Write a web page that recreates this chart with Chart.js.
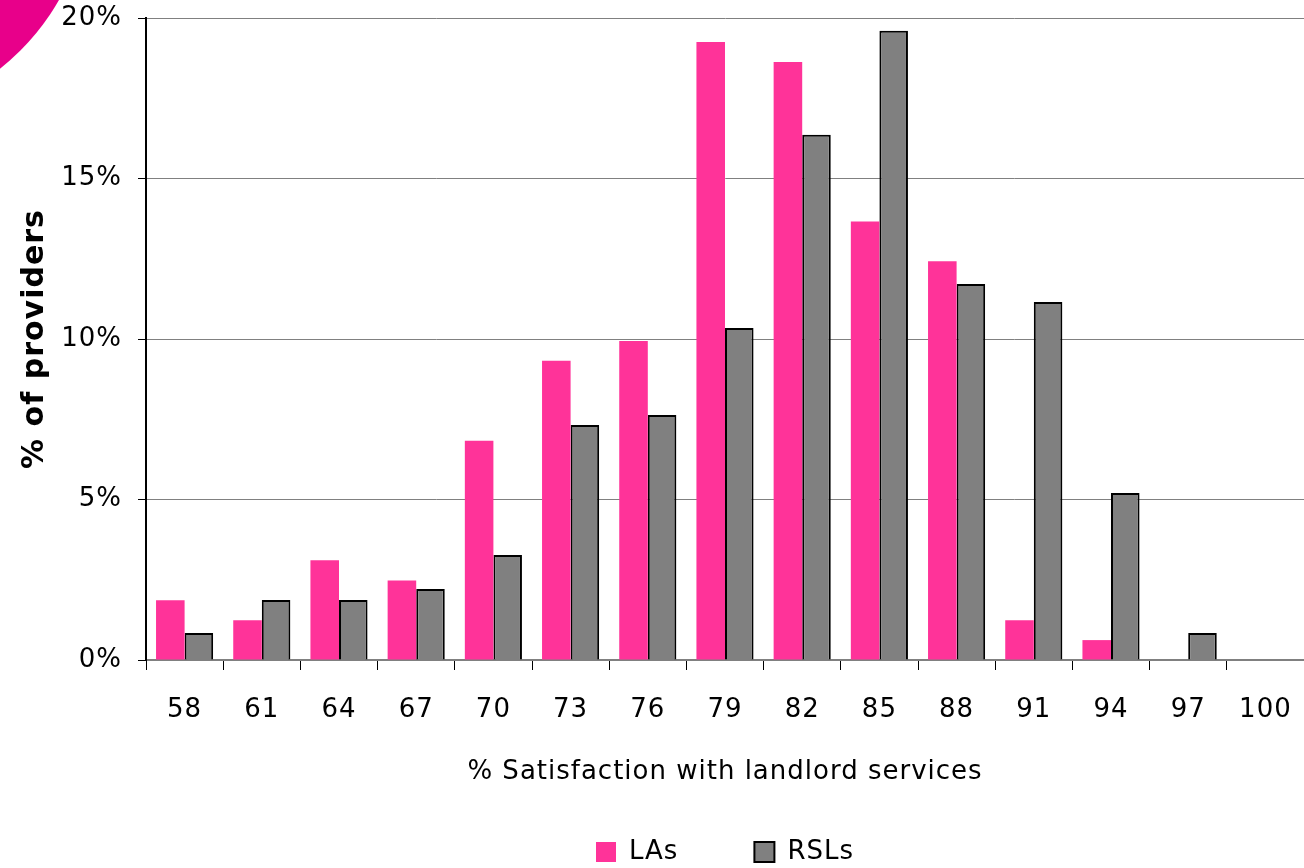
<!DOCTYPE html>
<html>
<head>
<meta charset="utf-8">
<script src="https://cdn.jsdelivr.net/npm/chart.js@4"></script>
<style>
  html, body { margin: 0; padding: 0; background: #fff; }
  #wrap { width: 1304px; height: 868px; position: relative; }
</style>
</head>
<body>
<div id="wrap"><canvas id="chart"></canvas></div>
<script>
// satisfaction bands (x axis)
const bands = ['58', '61', '64', '67', '70', '73', '76', '79', '82', '85', '88', '91', '94', '97', '100'];
// % of providers in each band
const laValues = [1.86, 1.24, 3.11, 2.48, 6.83, 9.32, 9.94, 19.25, 18.63, 13.66, 12.42, 1.24, 0.62, 0, 0];
const rslValues = [0.84, 1.87, 1.87, 2.21, 3.27, 7.32, 7.63, 10.34, 16.36, 19.6, 11.71, 11.15, 5.2, 0.84, 0];
const yTicks = [0, 5, 10, 15, 20];

const FONT = "'DejaVu Sans', Verdana, sans-serif";

// slightly wider text, like the original slide font
const spacing = {
    id: 'spacing',
    beforeUpdate(chart) { chart.ctx.letterSpacing = '1px'; },
    beforeDraw(chart) { chart.ctx.letterSpacing = '1px'; }
};

// decorative magenta corner from the source slide
const cornerBlob = {
    id: 'cornerBlob',
    beforeDraw(chart) {
        const ctx = chart.ctx;
        ctx.save();
        ctx.fillStyle = '#e8008a';
        ctx.beginPath();
        ctx.arc(-150, -120, 241, 0, Math.PI * 2);
        ctx.fill();
        ctx.restore();
    }
};

new Chart(document.getElementById('chart'), {
    type: 'bar',
    data: {
        labels: bands,
        datasets: [
            {
                label: 'LAs',
                data: laValues,
                backgroundColor: '#ff3399',
                borderWidth: 0
            },
            {
                label: 'RSLs',
                data: rslValues,
                backgroundColor: '#808080',
                borderColor: '#000000',
                borderWidth: 2
            }
        ]
    },
    options: {
        responsive: true,
        maintainAspectRatio: false,
        animation: false,
        layout: { padding: { top: 18, right: 0, left: 0, bottom: -7 } },
        datasets: {
            bar: { categoryPercentage: 0.74, barPercentage: 1.0 }
        },
        scales: {
            x: {
                grid: {
                    offset: true,
                    drawOnChartArea: false,
                    drawTicks: true,
                    tickLength: 10,
                    color: '#000'
                },
                border: { color: '#808080', width: 2 },
                ticks: {
                    color: '#000',
                    font: { family: FONT, size: 26 },
                    padding: 25,
                    maxRotation: 0
                },
                title: {
                    display: true,
                    text: '% Satisfaction with landlord services',
                    color: '#000',
                    font: { family: FONT, size: 26 },
                    padding: { top: 0, bottom: -25 }
                },
                afterFit(scale) {
                    scale.height = 103;
                    scale.paddingLeft = 0;
                    scale.paddingRight = 0;
                }
            },
            y: {
                min: 0,
                max: 20,
                afterBuildTicks(scale) {
                    scale.ticks = yTicks.map(v => ({ value: v }));
                },
                grid: {
                    color: '#808080',
                    lineWidth: 1,
                    drawTicks: true,
                    tickLength: 8,
                    tickColor: '#000'
                },
                border: { color: '#000', width: 2 },
                ticks: {
                    color: '#000',
                    font: { family: FONT, size: 26 },
                    padding: 16,
                    callback: v => v + '%'
                },
                title: {
                    display: true,
                    text: '% of providers',
                    color: '#000',
                    font: { family: FONT, size: 30, weight: 'bold' },
                    padding: { top: 17, bottom: 0 }
                },
                afterFit(scale) {
                    scale.width = 146;
                    scale.paddingTop = 0;
                    scale.paddingBottom = 0;
                }
            }
        },
        plugins: {
            legend: {
                position: 'bottom',
                fullSize: false,
                labels: {
                    color: '#000',
                    font: { family: FONT, size: 26 },
                    boxWidth: 20,
                    boxHeight: 20,
                    padding: 76
                }
            },
            tooltip: { enabled: false }
        }
    },
    plugins: [spacing, cornerBlob]
});
</script>
</body>
</html>
